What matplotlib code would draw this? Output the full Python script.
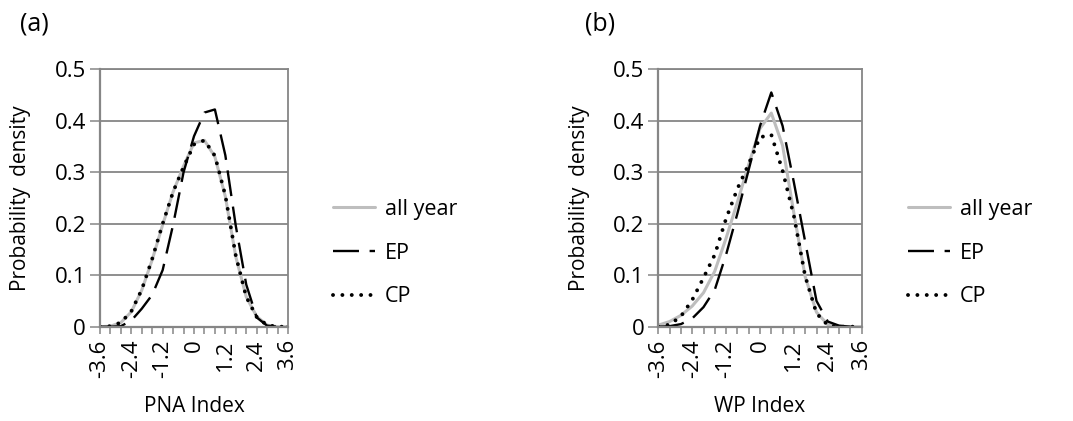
import matplotlib
matplotlib.use("Agg")
import matplotlib.pyplot as plt

plt.rcParams['font.family'] = ['Open Sans', 'DejaVu Sans']

# index values (category axis)
index_vals = [-3.6, -3.2, -2.8, -2.4, -2.0, -1.6, -1.2, -0.8, -0.4, 0.0,
              0.4, 0.8, 1.2, 1.6, 2.0, 2.4, 2.8, 3.2, 3.6]
tick_labels = ["-3.6", "-2.4", "-1.2", "0", "1.2", "2.4", "3.6"]

# (a) PNA index
pna_all = [0, 0.001, 0.008, 0.029, 0.071, 0.130, 0.198, 0.262, 0.312, 0.357,
           0.362, 0.330, 0.253, 0.136, 0.058, 0.020, 0.003, 0, 0]
pna_ep = [0, 0, 0.001, 0.012, 0.035, 0.062, 0.110, 0.198, 0.300, 0.370,
          0.416, 0.422, 0.333, 0.196, 0.082, 0.018, 0.002, 0, 0]
pna_cp = [0, 0.001, 0.008, 0.030, 0.072, 0.132, 0.200, 0.262, 0.310, 0.354,
          0.362, 0.332, 0.255, 0.138, 0.058, 0.019, 0.003, 0, 0]

# (b) WP index
wp_all = [0.003, 0.010, 0.022, 0.040, 0.066, 0.108, 0.172, 0.242, 0.315, 0.385,
          0.415, 0.352, 0.220, 0.097, 0.028, 0.004, 0.001, 0, 0]
wp_ep = [0, 0.001, 0.005, 0.016, 0.038, 0.072, 0.140, 0.220, 0.305, 0.390,
         0.455, 0.390, 0.280, 0.165, 0.050, 0.010, 0.002, 0, 0]
wp_cp = [0, 0.004, 0.020, 0.052, 0.095, 0.140, 0.210, 0.268, 0.316, 0.368,
         0.373, 0.303, 0.215, 0.098, 0.026, 0.003, 0, 0, 0]

GRID = "#868686"
FS = 15
TICK_FS = 16
W, H = 1073, 421

fig = plt.figure(figsize=(W / 100, H / 100), dpi=100)


def draw_panel(rect, all_y, ep_y, cp_y, xlabel, letter, letter_x, legend_x):
    ax = fig.add_axes(rect)
    ax.plot(index_vals, all_y, color="#bebebe", lw=2.2, label="all year",
            solid_capstyle="round")
    ax.plot(index_vals, ep_y, color="black", lw=1.7, linestyle=(0, (11, 4.5)),
            label="EP")
    ax.plot(index_vals, cp_y, color="black", lw=2.8, linestyle=(0, (0.01, 2.4)),
            dash_capstyle="round", label="CP")

    ax.set_xlim(-3.6, 3.6)
    ax.set_ylim(0, 0.5)
    ax.set_xticks(index_vals)
    ax.set_xticklabels([tick_labels[i // 3] if i % 3 == 0 else ""
                        for i in range(len(index_vals))],
                       rotation=90, fontsize=TICK_FS)
    ax.set_yticks([0, 0.1, 0.2, 0.3, 0.4, 0.5])
    ax.set_yticklabels(["0", "0.1", "0.2", "0.3", "0.4", "0.5"], fontsize=TICK_FS)
    ax.tick_params(axis="x", length=5, width=1.1, color=GRID, pad=4)
    ax.tick_params(axis="y", length=7, width=1.1, color=GRID, pad=3)
    ax.grid(axis="y", color=GRID, lw=1.3)
    ax.set_axisbelow(True)
    for s in ax.spines.values():
        s.set_color(GRID)
        s.set_linewidth(1.3)
    ax.spines["left"].set_linewidth(1.6)
    ax.spines["bottom"].set_linewidth(1.6)

    ax.set_ylabel("Probability  density", fontsize=FS, va="center")
    ax.yaxis.set_label_coords(-79 / (rect[2] * W), 0.5)
    ax.set_xlabel(xlabel, fontsize=FS, va="center")
    ax.xaxis.set_label_coords(0.5, -80 / (rect[3] * H))

    fig.text(letter_x, (H - 24) / H, letter, fontsize=18, va="center")

    ax.legend(loc="upper left", bbox_to_anchor=(legend_x, (H - 199) / H),
              bbox_transform=fig.transFigure, frameon=False, fontsize=15.5,
              handlelength=1.95, handletextpad=0.47, labelspacing=1.05,
              borderpad=0, borderaxespad=0)
    return ax


draw_panel([100 / W, 94.3 / H, 188 / W, 257.4 / H],
           pna_all, pna_ep, pna_cp, "PNA Index", "(a)", 20 / W, 333 / W)
draw_panel([658.3 / W, 94.3 / H, 203.4 / W, 257.4 / H],
           wp_all, wp_ep, wp_cp, "WP Index", "(b)", 585 / W, 908 / W)

fig.savefig("out.png", dpi=100)
